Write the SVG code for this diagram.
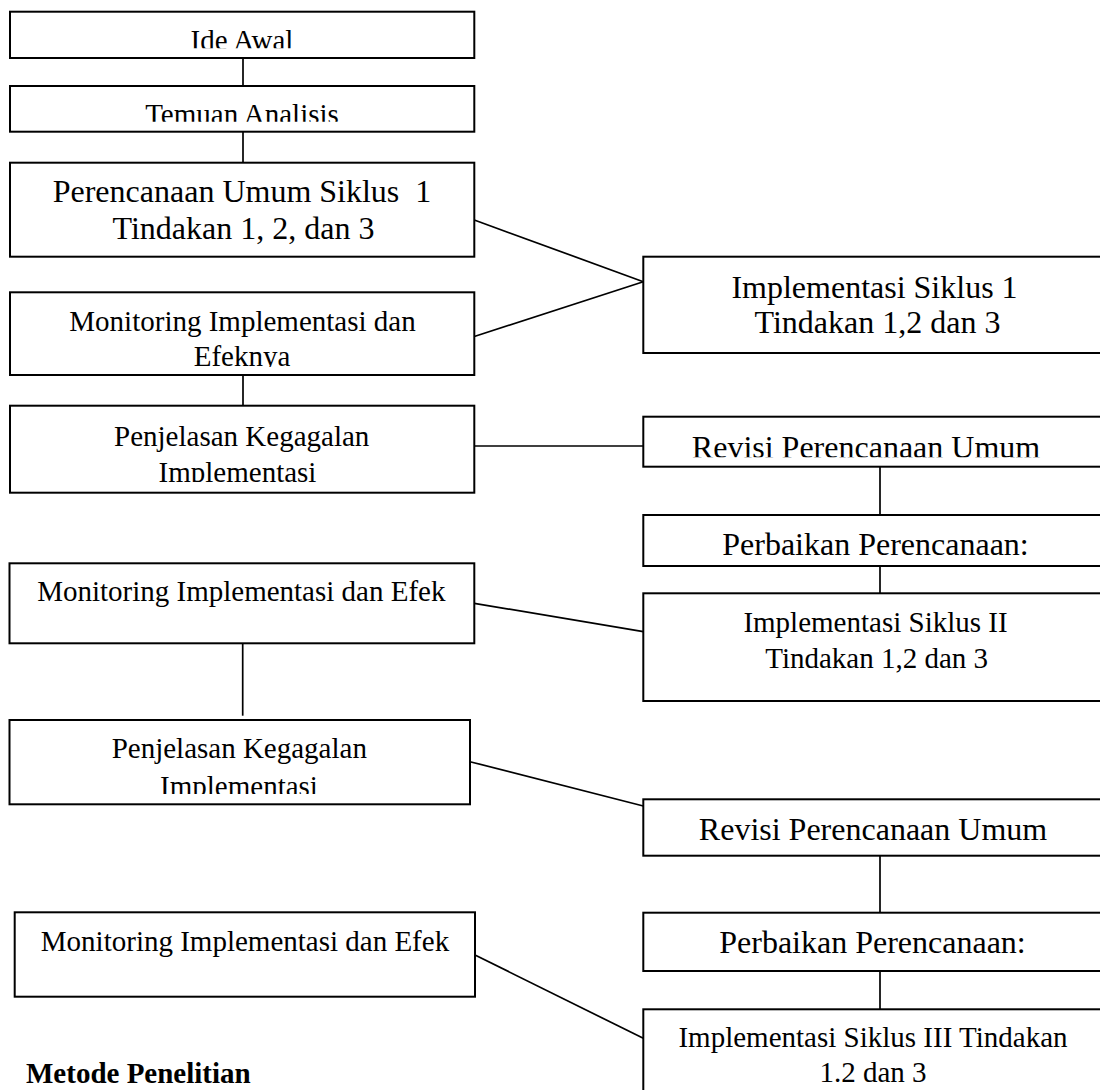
<svg xmlns="http://www.w3.org/2000/svg" width="1100" height="1090" viewBox="0 0 1100 1090">
<style>
.box{fill:#fff;stroke:#000;stroke-width:2}
.ln{stroke:#000;stroke-width:1.7;fill:none}
text{font-family:"Liberation Serif","Times New Roman",serif;fill:#000;text-anchor:middle}
.f29{font-size:29px}
.f32{font-size:32px}
.title{font-size:29px;font-weight:bold;text-anchor:start}
</style>
<defs>
<clipPath id="c1"><rect x="0" y="0" width="500" height="48.3"/></clipPath>
<clipPath id="c2"><rect x="0" y="80" width="500" height="41.7"/></clipPath>
<clipPath id="c3"><rect x="0" y="290" width="500" height="77"/></clipPath>
<clipPath id="c4"><rect x="0" y="400" width="500" height="82"/></clipPath>
<clipPath id="c5"><rect x="640" y="410" width="460" height="47.3"/></clipPath>
<clipPath id="c6"><rect x="0" y="715" width="500" height="79"/></clipPath>
</defs>
<g id="connectors">
<line class="ln" x1="243" y1="58" x2="243" y2="86"/>
<line class="ln" x1="243" y1="131.7" x2="243" y2="162.7"/>
<line class="ln" x1="474.3" y1="220" x2="643.3" y2="281.7"/>
<line class="ln" x1="474.3" y1="336.5" x2="643.3" y2="281.7"/>
<line class="ln" x1="243" y1="375" x2="243" y2="405.7"/>
<line class="ln" x1="474.3" y1="446" x2="643.3" y2="446"/>
<line class="ln" x1="880" y1="466.7" x2="880" y2="515"/>
<line class="ln" x1="880" y1="566" x2="880" y2="593.3"/>
<line class="ln" x1="474.3" y1="603.3" x2="643.3" y2="631.7"/>
<line class="ln" x1="242.7" y1="643.3" x2="242.7" y2="715.7"/>
<line class="ln" x1="470" y1="761.7" x2="643.3" y2="806"/>
<line class="ln" x1="880" y1="855.7" x2="880" y2="912.7"/>
<line class="ln" x1="880" y1="971" x2="880" y2="1009.3"/>
<line class="ln" x1="475" y1="955" x2="643.3" y2="1038.3"/>
</g>
<g id="ide-awal">
<rect class="box" x="10" y="11.7" width="464.3" height="46.3"/>
<text class="f29" x="242" y="49.5" clip-path="url(#c1)">Ide Awal</text>
</g>
<g id="temuan-analisis">
<rect class="box" x="10" y="86" width="464.3" height="45.7"/>
<text class="f29" x="242" y="123.5" clip-path="url(#c2)">Temuan Analisis</text>
</g>
<g id="perencanaan-umum">
<rect class="box" x="10" y="162.7" width="464.3" height="94"/>
<text class="f32" x="242" y="202.3" xml:space="preserve">Perencanaan Umum Siklus  1</text>
<text class="f32" x="243.5" y="239.3">Tindakan 1, 2, dan 3</text>
</g>
<g id="monitoring-1">
<rect class="box" x="10" y="292.3" width="464.3" height="82.7"/>
<g clip-path="url(#c3)">
<text class="f29" x="242.5" y="330.7">Monitoring Implementasi dan</text>
<text class="f29" x="242" y="366.3">Efeknya</text>
</g>
</g>
<g id="penjelasan-1">
<rect class="box" x="10" y="405.7" width="464.3" height="87"/>
<g clip-path="url(#c4)">
<text class="f29" x="241.7" y="445.7">Penjelasan Kegagalan</text>
<text class="f29" x="237.5" y="481.5">Implementasi</text>
</g>
</g>
<g id="implementasi-1">
<rect class="box" x="643.3" y="256.7" width="470" height="96.3"/>
<text class="f32" x="874.5" y="297.7">Implementasi Siklus 1</text>
<text class="f32" x="877.5" y="333">Tindakan 1,2 dan 3</text>
</g>
<g id="revisi-1">
<rect class="box" x="643.3" y="416.7" width="470" height="50"/>
<text class="f32" x="866" y="458" clip-path="url(#c5)">Revisi Perencanaan Umum</text>
</g>
<g id="perbaikan-1">
<rect class="box" x="643.3" y="515" width="470" height="51"/>
<text class="f32" x="875.5" y="555.3">Perbaikan Perencanaan:</text>
</g>
<g id="monitoring-2">
<rect class="box" x="9.5" y="563.3" width="464.8" height="80"/>
<text class="f29" x="241.3" y="601">Monitoring Implementasi dan Efek</text>
</g>
<g id="implementasi-2">
<rect class="box" x="643.3" y="593.3" width="470" height="107.7"/>
<text class="f29" x="875.5" y="632">Implementasi Siklus II</text>
<text class="f29" x="876.7" y="668">Tindakan 1,2 dan 3</text>
</g>
<g id="penjelasan-2">
<rect class="box" x="9.5" y="720" width="460.5" height="84.3"/>
<g clip-path="url(#c6)">
<text class="f29" x="239.3" y="757.7">Penjelasan Kegagalan</text>
<text class="f29" x="239" y="795.5">Implementasi</text>
</g>
</g>
<g id="revisi-2">
<rect class="box" x="643.3" y="799.3" width="470" height="56.4"/>
<text class="f32" x="873" y="840">Revisi Perencanaan Umum</text>
</g>
<g id="perbaikan-2">
<rect class="box" x="643.3" y="912.7" width="470" height="58.3"/>
<text class="f32" x="872.5" y="952.7">Perbaikan Perencanaan:</text>
</g>
<g id="monitoring-3">
<rect class="box" x="14.7" y="912.3" width="460.3" height="84.4"/>
<text class="f29" x="245" y="951">Monitoring Implementasi dan Efek</text>
</g>
<g id="implementasi-3">
<rect class="box" x="643.3" y="1009.3" width="470" height="100"/>
<text class="f29" x="873" y="1046.7">Implementasi Siklus III Tindakan</text>
<text class="f29" x="873" y="1081.7">1.2 dan 3</text>
</g>
<text class="title" x="26" y="1082.7">Metode Penelitian</text>
</svg>
